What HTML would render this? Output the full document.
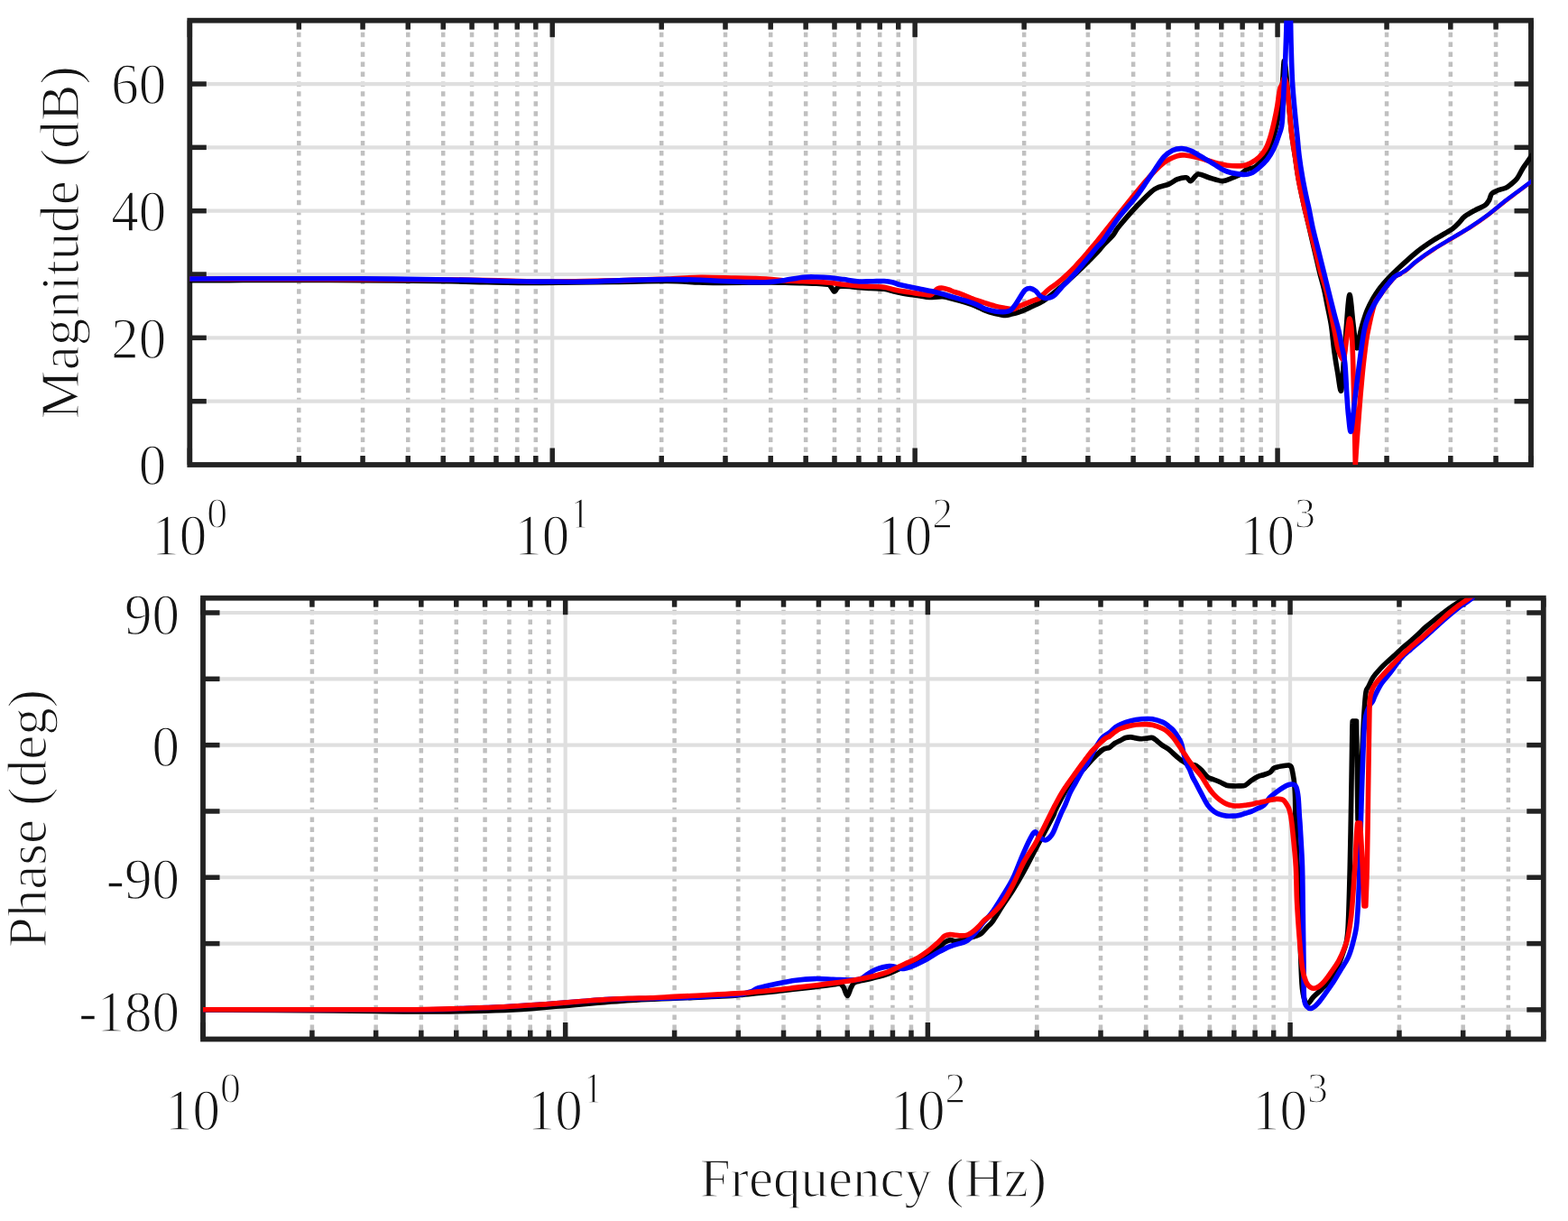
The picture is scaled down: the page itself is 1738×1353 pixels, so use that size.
<!DOCTYPE html><html><head><meta charset="utf-8"><title>Bode plot</title><style>html,body{margin:0;padding:0;background:#fff;}svg{display:block;}</style></head><body><svg width="1738" height="1353" viewBox="0 0 1738 1353"><rect x="0" y="0" width="1738" height="1353" fill="#fff"/>
<line x1="331.29" y1="22.70" x2="331.29" y2="515.00" stroke="#c0c0c0" stroke-width="4.5" stroke-dasharray="5.5 5.45" stroke-dashoffset="-2"/>
<line x1="402.07" y1="22.70" x2="402.07" y2="515.00" stroke="#c0c0c0" stroke-width="4.5" stroke-dasharray="5.5 5.45" stroke-dashoffset="-2"/>
<line x1="452.28" y1="22.70" x2="452.28" y2="515.00" stroke="#c0c0c0" stroke-width="4.5" stroke-dasharray="5.5 5.45" stroke-dashoffset="-2"/>
<line x1="491.23" y1="22.70" x2="491.23" y2="515.00" stroke="#c0c0c0" stroke-width="4.5" stroke-dasharray="5.5 5.45" stroke-dashoffset="-2"/>
<line x1="523.06" y1="22.70" x2="523.06" y2="515.00" stroke="#c0c0c0" stroke-width="4.5" stroke-dasharray="5.5 5.45" stroke-dashoffset="-2"/>
<line x1="549.96" y1="22.70" x2="549.96" y2="515.00" stroke="#c0c0c0" stroke-width="4.5" stroke-dasharray="5.5 5.45" stroke-dashoffset="-2"/>
<line x1="573.27" y1="22.70" x2="573.27" y2="515.00" stroke="#c0c0c0" stroke-width="4.5" stroke-dasharray="5.5 5.45" stroke-dashoffset="-2"/>
<line x1="593.83" y1="22.70" x2="593.83" y2="515.00" stroke="#c0c0c0" stroke-width="4.5" stroke-dasharray="5.5 5.45" stroke-dashoffset="-2"/>
<line x1="612.22" y1="22.70" x2="612.22" y2="515.00" stroke="#dfdfdf" stroke-width="4.2" />
<line x1="733.21" y1="22.70" x2="733.21" y2="515.00" stroke="#c0c0c0" stroke-width="4.5" stroke-dasharray="5.5 5.45" stroke-dashoffset="-2"/>
<line x1="803.99" y1="22.70" x2="803.99" y2="515.00" stroke="#c0c0c0" stroke-width="4.5" stroke-dasharray="5.5 5.45" stroke-dashoffset="-2"/>
<line x1="854.20" y1="22.70" x2="854.20" y2="515.00" stroke="#c0c0c0" stroke-width="4.5" stroke-dasharray="5.5 5.45" stroke-dashoffset="-2"/>
<line x1="893.15" y1="22.70" x2="893.15" y2="515.00" stroke="#c0c0c0" stroke-width="4.5" stroke-dasharray="5.5 5.45" stroke-dashoffset="-2"/>
<line x1="924.98" y1="22.70" x2="924.98" y2="515.00" stroke="#c0c0c0" stroke-width="4.5" stroke-dasharray="5.5 5.45" stroke-dashoffset="-2"/>
<line x1="951.89" y1="22.70" x2="951.89" y2="515.00" stroke="#c0c0c0" stroke-width="4.5" stroke-dasharray="5.5 5.45" stroke-dashoffset="-2"/>
<line x1="975.20" y1="22.70" x2="975.20" y2="515.00" stroke="#c0c0c0" stroke-width="4.5" stroke-dasharray="5.5 5.45" stroke-dashoffset="-2"/>
<line x1="995.75" y1="22.70" x2="995.75" y2="515.00" stroke="#c0c0c0" stroke-width="4.5" stroke-dasharray="5.5 5.45" stroke-dashoffset="-2"/>
<line x1="1014.15" y1="22.70" x2="1014.15" y2="515.00" stroke="#dfdfdf" stroke-width="4.2" />
<line x1="1135.14" y1="22.70" x2="1135.14" y2="515.00" stroke="#c0c0c0" stroke-width="4.5" stroke-dasharray="5.5 5.45" stroke-dashoffset="-2"/>
<line x1="1205.91" y1="22.70" x2="1205.91" y2="515.00" stroke="#c0c0c0" stroke-width="4.5" stroke-dasharray="5.5 5.45" stroke-dashoffset="-2"/>
<line x1="1256.13" y1="22.70" x2="1256.13" y2="515.00" stroke="#c0c0c0" stroke-width="4.5" stroke-dasharray="5.5 5.45" stroke-dashoffset="-2"/>
<line x1="1295.08" y1="22.70" x2="1295.08" y2="515.00" stroke="#c0c0c0" stroke-width="4.5" stroke-dasharray="5.5 5.45" stroke-dashoffset="-2"/>
<line x1="1326.90" y1="22.70" x2="1326.90" y2="515.00" stroke="#c0c0c0" stroke-width="4.5" stroke-dasharray="5.5 5.45" stroke-dashoffset="-2"/>
<line x1="1353.81" y1="22.70" x2="1353.81" y2="515.00" stroke="#c0c0c0" stroke-width="4.5" stroke-dasharray="5.5 5.45" stroke-dashoffset="-2"/>
<line x1="1377.12" y1="22.70" x2="1377.12" y2="515.00" stroke="#c0c0c0" stroke-width="4.5" stroke-dasharray="5.5 5.45" stroke-dashoffset="-2"/>
<line x1="1397.68" y1="22.70" x2="1397.68" y2="515.00" stroke="#c0c0c0" stroke-width="4.5" stroke-dasharray="5.5 5.45" stroke-dashoffset="-2"/>
<line x1="1416.07" y1="22.70" x2="1416.07" y2="515.00" stroke="#dfdfdf" stroke-width="4.2" />
<line x1="1537.06" y1="22.70" x2="1537.06" y2="515.00" stroke="#c0c0c0" stroke-width="4.5" stroke-dasharray="5.5 5.45" stroke-dashoffset="-2"/>
<line x1="1607.83" y1="22.70" x2="1607.83" y2="515.00" stroke="#c0c0c0" stroke-width="4.5" stroke-dasharray="5.5 5.45" stroke-dashoffset="-2"/>
<line x1="1658.05" y1="22.70" x2="1658.05" y2="515.00" stroke="#c0c0c0" stroke-width="4.5" stroke-dasharray="5.5 5.45" stroke-dashoffset="-2"/>
<line x1="1697.00" y1="22.70" x2="1697.00" y2="515.00" stroke="#c0c0c0" stroke-width="4.5" stroke-dasharray="5.5 5.45" stroke-dashoffset="-2"/>
<line x1="210.30" y1="444.67" x2="1697.00" y2="444.67" stroke="#dfdfdf" stroke-width="4.2" />
<line x1="210.30" y1="374.34" x2="1697.00" y2="374.34" stroke="#dfdfdf" stroke-width="4.2" />
<line x1="210.30" y1="304.01" x2="1697.00" y2="304.01" stroke="#dfdfdf" stroke-width="4.2" />
<line x1="210.30" y1="233.69" x2="1697.00" y2="233.69" stroke="#dfdfdf" stroke-width="4.2" />
<line x1="210.30" y1="163.36" x2="1697.00" y2="163.36" stroke="#dfdfdf" stroke-width="4.2" />
<line x1="210.30" y1="93.03" x2="1697.00" y2="93.03" stroke="#dfdfdf" stroke-width="4.2" />
<line x1="210.30" y1="22.70" x2="210.30" y2="41.20" stroke="#222222" stroke-width="5.5" />
<line x1="210.30" y1="515.00" x2="210.30" y2="496.50" stroke="#222222" stroke-width="5.5" />
<line x1="331.29" y1="22.70" x2="331.29" y2="32.70" stroke="#222222" stroke-width="5.5" />
<line x1="331.29" y1="515.00" x2="331.29" y2="505.00" stroke="#222222" stroke-width="5.5" />
<line x1="402.07" y1="22.70" x2="402.07" y2="32.70" stroke="#222222" stroke-width="5.5" />
<line x1="402.07" y1="515.00" x2="402.07" y2="505.00" stroke="#222222" stroke-width="5.5" />
<line x1="452.28" y1="22.70" x2="452.28" y2="32.70" stroke="#222222" stroke-width="5.5" />
<line x1="452.28" y1="515.00" x2="452.28" y2="505.00" stroke="#222222" stroke-width="5.5" />
<line x1="491.23" y1="22.70" x2="491.23" y2="32.70" stroke="#222222" stroke-width="5.5" />
<line x1="491.23" y1="515.00" x2="491.23" y2="505.00" stroke="#222222" stroke-width="5.5" />
<line x1="523.06" y1="22.70" x2="523.06" y2="32.70" stroke="#222222" stroke-width="5.5" />
<line x1="523.06" y1="515.00" x2="523.06" y2="505.00" stroke="#222222" stroke-width="5.5" />
<line x1="549.96" y1="22.70" x2="549.96" y2="32.70" stroke="#222222" stroke-width="5.5" />
<line x1="549.96" y1="515.00" x2="549.96" y2="505.00" stroke="#222222" stroke-width="5.5" />
<line x1="573.27" y1="22.70" x2="573.27" y2="32.70" stroke="#222222" stroke-width="5.5" />
<line x1="573.27" y1="515.00" x2="573.27" y2="505.00" stroke="#222222" stroke-width="5.5" />
<line x1="593.83" y1="22.70" x2="593.83" y2="32.70" stroke="#222222" stroke-width="5.5" />
<line x1="593.83" y1="515.00" x2="593.83" y2="505.00" stroke="#222222" stroke-width="5.5" />
<line x1="612.22" y1="22.70" x2="612.22" y2="41.20" stroke="#222222" stroke-width="5.5" />
<line x1="612.22" y1="515.00" x2="612.22" y2="496.50" stroke="#222222" stroke-width="5.5" />
<line x1="733.21" y1="22.70" x2="733.21" y2="32.70" stroke="#222222" stroke-width="5.5" />
<line x1="733.21" y1="515.00" x2="733.21" y2="505.00" stroke="#222222" stroke-width="5.5" />
<line x1="803.99" y1="22.70" x2="803.99" y2="32.70" stroke="#222222" stroke-width="5.5" />
<line x1="803.99" y1="515.00" x2="803.99" y2="505.00" stroke="#222222" stroke-width="5.5" />
<line x1="854.20" y1="22.70" x2="854.20" y2="32.70" stroke="#222222" stroke-width="5.5" />
<line x1="854.20" y1="515.00" x2="854.20" y2="505.00" stroke="#222222" stroke-width="5.5" />
<line x1="893.15" y1="22.70" x2="893.15" y2="32.70" stroke="#222222" stroke-width="5.5" />
<line x1="893.15" y1="515.00" x2="893.15" y2="505.00" stroke="#222222" stroke-width="5.5" />
<line x1="924.98" y1="22.70" x2="924.98" y2="32.70" stroke="#222222" stroke-width="5.5" />
<line x1="924.98" y1="515.00" x2="924.98" y2="505.00" stroke="#222222" stroke-width="5.5" />
<line x1="951.89" y1="22.70" x2="951.89" y2="32.70" stroke="#222222" stroke-width="5.5" />
<line x1="951.89" y1="515.00" x2="951.89" y2="505.00" stroke="#222222" stroke-width="5.5" />
<line x1="975.20" y1="22.70" x2="975.20" y2="32.70" stroke="#222222" stroke-width="5.5" />
<line x1="975.20" y1="515.00" x2="975.20" y2="505.00" stroke="#222222" stroke-width="5.5" />
<line x1="995.75" y1="22.70" x2="995.75" y2="32.70" stroke="#222222" stroke-width="5.5" />
<line x1="995.75" y1="515.00" x2="995.75" y2="505.00" stroke="#222222" stroke-width="5.5" />
<line x1="1014.15" y1="22.70" x2="1014.15" y2="41.20" stroke="#222222" stroke-width="5.5" />
<line x1="1014.15" y1="515.00" x2="1014.15" y2="496.50" stroke="#222222" stroke-width="5.5" />
<line x1="1135.14" y1="22.70" x2="1135.14" y2="32.70" stroke="#222222" stroke-width="5.5" />
<line x1="1135.14" y1="515.00" x2="1135.14" y2="505.00" stroke="#222222" stroke-width="5.5" />
<line x1="1205.91" y1="22.70" x2="1205.91" y2="32.70" stroke="#222222" stroke-width="5.5" />
<line x1="1205.91" y1="515.00" x2="1205.91" y2="505.00" stroke="#222222" stroke-width="5.5" />
<line x1="1256.13" y1="22.70" x2="1256.13" y2="32.70" stroke="#222222" stroke-width="5.5" />
<line x1="1256.13" y1="515.00" x2="1256.13" y2="505.00" stroke="#222222" stroke-width="5.5" />
<line x1="1295.08" y1="22.70" x2="1295.08" y2="32.70" stroke="#222222" stroke-width="5.5" />
<line x1="1295.08" y1="515.00" x2="1295.08" y2="505.00" stroke="#222222" stroke-width="5.5" />
<line x1="1326.90" y1="22.70" x2="1326.90" y2="32.70" stroke="#222222" stroke-width="5.5" />
<line x1="1326.90" y1="515.00" x2="1326.90" y2="505.00" stroke="#222222" stroke-width="5.5" />
<line x1="1353.81" y1="22.70" x2="1353.81" y2="32.70" stroke="#222222" stroke-width="5.5" />
<line x1="1353.81" y1="515.00" x2="1353.81" y2="505.00" stroke="#222222" stroke-width="5.5" />
<line x1="1377.12" y1="22.70" x2="1377.12" y2="32.70" stroke="#222222" stroke-width="5.5" />
<line x1="1377.12" y1="515.00" x2="1377.12" y2="505.00" stroke="#222222" stroke-width="5.5" />
<line x1="1397.68" y1="22.70" x2="1397.68" y2="32.70" stroke="#222222" stroke-width="5.5" />
<line x1="1397.68" y1="515.00" x2="1397.68" y2="505.00" stroke="#222222" stroke-width="5.5" />
<line x1="1416.07" y1="22.70" x2="1416.07" y2="41.20" stroke="#222222" stroke-width="5.5" />
<line x1="1416.07" y1="515.00" x2="1416.07" y2="496.50" stroke="#222222" stroke-width="5.5" />
<line x1="1537.06" y1="22.70" x2="1537.06" y2="32.70" stroke="#222222" stroke-width="5.5" />
<line x1="1537.06" y1="515.00" x2="1537.06" y2="505.00" stroke="#222222" stroke-width="5.5" />
<line x1="1607.83" y1="22.70" x2="1607.83" y2="32.70" stroke="#222222" stroke-width="5.5" />
<line x1="1607.83" y1="515.00" x2="1607.83" y2="505.00" stroke="#222222" stroke-width="5.5" />
<line x1="1658.05" y1="22.70" x2="1658.05" y2="32.70" stroke="#222222" stroke-width="5.5" />
<line x1="1658.05" y1="515.00" x2="1658.05" y2="505.00" stroke="#222222" stroke-width="5.5" />
<line x1="1697.00" y1="22.70" x2="1697.00" y2="32.70" stroke="#222222" stroke-width="5.5" />
<line x1="1697.00" y1="515.00" x2="1697.00" y2="505.00" stroke="#222222" stroke-width="5.5" />
<line x1="210.30" y1="444.67" x2="228.80" y2="444.67" stroke="#222222" stroke-width="5.5" />
<line x1="1697.00" y1="444.67" x2="1678.50" y2="444.67" stroke="#222222" stroke-width="5.5" />
<line x1="210.30" y1="374.34" x2="228.80" y2="374.34" stroke="#222222" stroke-width="5.5" />
<line x1="1697.00" y1="374.34" x2="1678.50" y2="374.34" stroke="#222222" stroke-width="5.5" />
<line x1="210.30" y1="304.01" x2="228.80" y2="304.01" stroke="#222222" stroke-width="5.5" />
<line x1="1697.00" y1="304.01" x2="1678.50" y2="304.01" stroke="#222222" stroke-width="5.5" />
<line x1="210.30" y1="233.69" x2="228.80" y2="233.69" stroke="#222222" stroke-width="5.5" />
<line x1="1697.00" y1="233.69" x2="1678.50" y2="233.69" stroke="#222222" stroke-width="5.5" />
<line x1="210.30" y1="163.36" x2="228.80" y2="163.36" stroke="#222222" stroke-width="5.5" />
<line x1="1697.00" y1="163.36" x2="1678.50" y2="163.36" stroke="#222222" stroke-width="5.5" />
<line x1="210.30" y1="93.03" x2="228.80" y2="93.03" stroke="#222222" stroke-width="5.5" />
<line x1="1697.00" y1="93.03" x2="1678.50" y2="93.03" stroke="#222222" stroke-width="5.5" />
<rect x="210.30" y="22.70" width="1486.70" height="492.30" fill="none" stroke="#222222" stroke-width="5.8"/>
<line x1="345.92" y1="662.70" x2="345.92" y2="1151.50" stroke="#c0c0c0" stroke-width="4.5" stroke-dasharray="5.5 5.45" stroke-dashoffset="-2"/>
<line x1="416.65" y1="662.70" x2="416.65" y2="1151.50" stroke="#c0c0c0" stroke-width="4.5" stroke-dasharray="5.5 5.45" stroke-dashoffset="-2"/>
<line x1="466.84" y1="662.70" x2="466.84" y2="1151.50" stroke="#c0c0c0" stroke-width="4.5" stroke-dasharray="5.5 5.45" stroke-dashoffset="-2"/>
<line x1="505.76" y1="662.70" x2="505.76" y2="1151.50" stroke="#c0c0c0" stroke-width="4.5" stroke-dasharray="5.5 5.45" stroke-dashoffset="-2"/>
<line x1="537.57" y1="662.70" x2="537.57" y2="1151.50" stroke="#c0c0c0" stroke-width="4.5" stroke-dasharray="5.5 5.45" stroke-dashoffset="-2"/>
<line x1="564.46" y1="662.70" x2="564.46" y2="1151.50" stroke="#c0c0c0" stroke-width="4.5" stroke-dasharray="5.5 5.45" stroke-dashoffset="-2"/>
<line x1="587.75" y1="662.70" x2="587.75" y2="1151.50" stroke="#c0c0c0" stroke-width="4.5" stroke-dasharray="5.5 5.45" stroke-dashoffset="-2"/>
<line x1="608.30" y1="662.70" x2="608.30" y2="1151.50" stroke="#c0c0c0" stroke-width="4.5" stroke-dasharray="5.5 5.45" stroke-dashoffset="-2"/>
<line x1="626.68" y1="662.70" x2="626.68" y2="1151.50" stroke="#dfdfdf" stroke-width="4.2" />
<line x1="747.60" y1="662.70" x2="747.60" y2="1151.50" stroke="#c0c0c0" stroke-width="4.5" stroke-dasharray="5.5 5.45" stroke-dashoffset="-2"/>
<line x1="818.33" y1="662.70" x2="818.33" y2="1151.50" stroke="#c0c0c0" stroke-width="4.5" stroke-dasharray="5.5 5.45" stroke-dashoffset="-2"/>
<line x1="868.51" y1="662.70" x2="868.51" y2="1151.50" stroke="#c0c0c0" stroke-width="4.5" stroke-dasharray="5.5 5.45" stroke-dashoffset="-2"/>
<line x1="907.44" y1="662.70" x2="907.44" y2="1151.50" stroke="#c0c0c0" stroke-width="4.5" stroke-dasharray="5.5 5.45" stroke-dashoffset="-2"/>
<line x1="939.25" y1="662.70" x2="939.25" y2="1151.50" stroke="#c0c0c0" stroke-width="4.5" stroke-dasharray="5.5 5.45" stroke-dashoffset="-2"/>
<line x1="966.14" y1="662.70" x2="966.14" y2="1151.50" stroke="#c0c0c0" stroke-width="4.5" stroke-dasharray="5.5 5.45" stroke-dashoffset="-2"/>
<line x1="989.43" y1="662.70" x2="989.43" y2="1151.50" stroke="#c0c0c0" stroke-width="4.5" stroke-dasharray="5.5 5.45" stroke-dashoffset="-2"/>
<line x1="1009.98" y1="662.70" x2="1009.98" y2="1151.50" stroke="#c0c0c0" stroke-width="4.5" stroke-dasharray="5.5 5.45" stroke-dashoffset="-2"/>
<line x1="1028.36" y1="662.70" x2="1028.36" y2="1151.50" stroke="#dfdfdf" stroke-width="4.2" />
<line x1="1149.28" y1="662.70" x2="1149.28" y2="1151.50" stroke="#c0c0c0" stroke-width="4.5" stroke-dasharray="5.5 5.45" stroke-dashoffset="-2"/>
<line x1="1220.01" y1="662.70" x2="1220.01" y2="1151.50" stroke="#c0c0c0" stroke-width="4.5" stroke-dasharray="5.5 5.45" stroke-dashoffset="-2"/>
<line x1="1270.19" y1="662.70" x2="1270.19" y2="1151.50" stroke="#c0c0c0" stroke-width="4.5" stroke-dasharray="5.5 5.45" stroke-dashoffset="-2"/>
<line x1="1309.12" y1="662.70" x2="1309.12" y2="1151.50" stroke="#c0c0c0" stroke-width="4.5" stroke-dasharray="5.5 5.45" stroke-dashoffset="-2"/>
<line x1="1340.93" y1="662.70" x2="1340.93" y2="1151.50" stroke="#c0c0c0" stroke-width="4.5" stroke-dasharray="5.5 5.45" stroke-dashoffset="-2"/>
<line x1="1367.82" y1="662.70" x2="1367.82" y2="1151.50" stroke="#c0c0c0" stroke-width="4.5" stroke-dasharray="5.5 5.45" stroke-dashoffset="-2"/>
<line x1="1391.11" y1="662.70" x2="1391.11" y2="1151.50" stroke="#c0c0c0" stroke-width="4.5" stroke-dasharray="5.5 5.45" stroke-dashoffset="-2"/>
<line x1="1411.66" y1="662.70" x2="1411.66" y2="1151.50" stroke="#c0c0c0" stroke-width="4.5" stroke-dasharray="5.5 5.45" stroke-dashoffset="-2"/>
<line x1="1430.04" y1="662.70" x2="1430.04" y2="1151.50" stroke="#dfdfdf" stroke-width="4.2" />
<line x1="1550.96" y1="662.70" x2="1550.96" y2="1151.50" stroke="#c0c0c0" stroke-width="4.5" stroke-dasharray="5.5 5.45" stroke-dashoffset="-2"/>
<line x1="1621.69" y1="662.70" x2="1621.69" y2="1151.50" stroke="#c0c0c0" stroke-width="4.5" stroke-dasharray="5.5 5.45" stroke-dashoffset="-2"/>
<line x1="1671.87" y1="662.70" x2="1671.87" y2="1151.50" stroke="#c0c0c0" stroke-width="4.5" stroke-dasharray="5.5 5.45" stroke-dashoffset="-2"/>
<line x1="1710.80" y1="662.70" x2="1710.80" y2="1151.50" stroke="#c0c0c0" stroke-width="4.5" stroke-dasharray="5.5 5.45" stroke-dashoffset="-2"/>
<line x1="225.00" y1="1118.91" x2="1710.80" y2="1118.91" stroke="#dfdfdf" stroke-width="4.2" />
<line x1="225.00" y1="1045.59" x2="1710.80" y2="1045.59" stroke="#dfdfdf" stroke-width="4.2" />
<line x1="225.00" y1="972.27" x2="1710.80" y2="972.27" stroke="#dfdfdf" stroke-width="4.2" />
<line x1="225.00" y1="898.95" x2="1710.80" y2="898.95" stroke="#dfdfdf" stroke-width="4.2" />
<line x1="225.00" y1="825.63" x2="1710.80" y2="825.63" stroke="#dfdfdf" stroke-width="4.2" />
<line x1="225.00" y1="752.31" x2="1710.80" y2="752.31" stroke="#dfdfdf" stroke-width="4.2" />
<line x1="225.00" y1="678.99" x2="1710.80" y2="678.99" stroke="#dfdfdf" stroke-width="4.2" />
<line x1="225.00" y1="662.70" x2="225.00" y2="681.20" stroke="#222222" stroke-width="5.5" />
<line x1="225.00" y1="1151.50" x2="225.00" y2="1133.00" stroke="#222222" stroke-width="5.5" />
<line x1="345.92" y1="662.70" x2="345.92" y2="672.70" stroke="#222222" stroke-width="5.5" />
<line x1="345.92" y1="1151.50" x2="345.92" y2="1141.50" stroke="#222222" stroke-width="5.5" />
<line x1="416.65" y1="662.70" x2="416.65" y2="672.70" stroke="#222222" stroke-width="5.5" />
<line x1="416.65" y1="1151.50" x2="416.65" y2="1141.50" stroke="#222222" stroke-width="5.5" />
<line x1="466.84" y1="662.70" x2="466.84" y2="672.70" stroke="#222222" stroke-width="5.5" />
<line x1="466.84" y1="1151.50" x2="466.84" y2="1141.50" stroke="#222222" stroke-width="5.5" />
<line x1="505.76" y1="662.70" x2="505.76" y2="672.70" stroke="#222222" stroke-width="5.5" />
<line x1="505.76" y1="1151.50" x2="505.76" y2="1141.50" stroke="#222222" stroke-width="5.5" />
<line x1="537.57" y1="662.70" x2="537.57" y2="672.70" stroke="#222222" stroke-width="5.5" />
<line x1="537.57" y1="1151.50" x2="537.57" y2="1141.50" stroke="#222222" stroke-width="5.5" />
<line x1="564.46" y1="662.70" x2="564.46" y2="672.70" stroke="#222222" stroke-width="5.5" />
<line x1="564.46" y1="1151.50" x2="564.46" y2="1141.50" stroke="#222222" stroke-width="5.5" />
<line x1="587.75" y1="662.70" x2="587.75" y2="672.70" stroke="#222222" stroke-width="5.5" />
<line x1="587.75" y1="1151.50" x2="587.75" y2="1141.50" stroke="#222222" stroke-width="5.5" />
<line x1="608.30" y1="662.70" x2="608.30" y2="672.70" stroke="#222222" stroke-width="5.5" />
<line x1="608.30" y1="1151.50" x2="608.30" y2="1141.50" stroke="#222222" stroke-width="5.5" />
<line x1="626.68" y1="662.70" x2="626.68" y2="681.20" stroke="#222222" stroke-width="5.5" />
<line x1="626.68" y1="1151.50" x2="626.68" y2="1133.00" stroke="#222222" stroke-width="5.5" />
<line x1="747.60" y1="662.70" x2="747.60" y2="672.70" stroke="#222222" stroke-width="5.5" />
<line x1="747.60" y1="1151.50" x2="747.60" y2="1141.50" stroke="#222222" stroke-width="5.5" />
<line x1="818.33" y1="662.70" x2="818.33" y2="672.70" stroke="#222222" stroke-width="5.5" />
<line x1="818.33" y1="1151.50" x2="818.33" y2="1141.50" stroke="#222222" stroke-width="5.5" />
<line x1="868.51" y1="662.70" x2="868.51" y2="672.70" stroke="#222222" stroke-width="5.5" />
<line x1="868.51" y1="1151.50" x2="868.51" y2="1141.50" stroke="#222222" stroke-width="5.5" />
<line x1="907.44" y1="662.70" x2="907.44" y2="672.70" stroke="#222222" stroke-width="5.5" />
<line x1="907.44" y1="1151.50" x2="907.44" y2="1141.50" stroke="#222222" stroke-width="5.5" />
<line x1="939.25" y1="662.70" x2="939.25" y2="672.70" stroke="#222222" stroke-width="5.5" />
<line x1="939.25" y1="1151.50" x2="939.25" y2="1141.50" stroke="#222222" stroke-width="5.5" />
<line x1="966.14" y1="662.70" x2="966.14" y2="672.70" stroke="#222222" stroke-width="5.5" />
<line x1="966.14" y1="1151.50" x2="966.14" y2="1141.50" stroke="#222222" stroke-width="5.5" />
<line x1="989.43" y1="662.70" x2="989.43" y2="672.70" stroke="#222222" stroke-width="5.5" />
<line x1="989.43" y1="1151.50" x2="989.43" y2="1141.50" stroke="#222222" stroke-width="5.5" />
<line x1="1009.98" y1="662.70" x2="1009.98" y2="672.70" stroke="#222222" stroke-width="5.5" />
<line x1="1009.98" y1="1151.50" x2="1009.98" y2="1141.50" stroke="#222222" stroke-width="5.5" />
<line x1="1028.36" y1="662.70" x2="1028.36" y2="681.20" stroke="#222222" stroke-width="5.5" />
<line x1="1028.36" y1="1151.50" x2="1028.36" y2="1133.00" stroke="#222222" stroke-width="5.5" />
<line x1="1149.28" y1="662.70" x2="1149.28" y2="672.70" stroke="#222222" stroke-width="5.5" />
<line x1="1149.28" y1="1151.50" x2="1149.28" y2="1141.50" stroke="#222222" stroke-width="5.5" />
<line x1="1220.01" y1="662.70" x2="1220.01" y2="672.70" stroke="#222222" stroke-width="5.5" />
<line x1="1220.01" y1="1151.50" x2="1220.01" y2="1141.50" stroke="#222222" stroke-width="5.5" />
<line x1="1270.19" y1="662.70" x2="1270.19" y2="672.70" stroke="#222222" stroke-width="5.5" />
<line x1="1270.19" y1="1151.50" x2="1270.19" y2="1141.50" stroke="#222222" stroke-width="5.5" />
<line x1="1309.12" y1="662.70" x2="1309.12" y2="672.70" stroke="#222222" stroke-width="5.5" />
<line x1="1309.12" y1="1151.50" x2="1309.12" y2="1141.50" stroke="#222222" stroke-width="5.5" />
<line x1="1340.93" y1="662.70" x2="1340.93" y2="672.70" stroke="#222222" stroke-width="5.5" />
<line x1="1340.93" y1="1151.50" x2="1340.93" y2="1141.50" stroke="#222222" stroke-width="5.5" />
<line x1="1367.82" y1="662.70" x2="1367.82" y2="672.70" stroke="#222222" stroke-width="5.5" />
<line x1="1367.82" y1="1151.50" x2="1367.82" y2="1141.50" stroke="#222222" stroke-width="5.5" />
<line x1="1391.11" y1="662.70" x2="1391.11" y2="672.70" stroke="#222222" stroke-width="5.5" />
<line x1="1391.11" y1="1151.50" x2="1391.11" y2="1141.50" stroke="#222222" stroke-width="5.5" />
<line x1="1411.66" y1="662.70" x2="1411.66" y2="672.70" stroke="#222222" stroke-width="5.5" />
<line x1="1411.66" y1="1151.50" x2="1411.66" y2="1141.50" stroke="#222222" stroke-width="5.5" />
<line x1="1430.04" y1="662.70" x2="1430.04" y2="681.20" stroke="#222222" stroke-width="5.5" />
<line x1="1430.04" y1="1151.50" x2="1430.04" y2="1133.00" stroke="#222222" stroke-width="5.5" />
<line x1="1550.96" y1="662.70" x2="1550.96" y2="672.70" stroke="#222222" stroke-width="5.5" />
<line x1="1550.96" y1="1151.50" x2="1550.96" y2="1141.50" stroke="#222222" stroke-width="5.5" />
<line x1="1621.69" y1="662.70" x2="1621.69" y2="672.70" stroke="#222222" stroke-width="5.5" />
<line x1="1621.69" y1="1151.50" x2="1621.69" y2="1141.50" stroke="#222222" stroke-width="5.5" />
<line x1="1671.87" y1="662.70" x2="1671.87" y2="672.70" stroke="#222222" stroke-width="5.5" />
<line x1="1671.87" y1="1151.50" x2="1671.87" y2="1141.50" stroke="#222222" stroke-width="5.5" />
<line x1="1710.80" y1="662.70" x2="1710.80" y2="672.70" stroke="#222222" stroke-width="5.5" />
<line x1="1710.80" y1="1151.50" x2="1710.80" y2="1141.50" stroke="#222222" stroke-width="5.5" />
<line x1="225.00" y1="1118.91" x2="243.50" y2="1118.91" stroke="#222222" stroke-width="5.5" />
<line x1="1710.80" y1="1118.91" x2="1692.30" y2="1118.91" stroke="#222222" stroke-width="5.5" />
<line x1="225.00" y1="1045.59" x2="243.50" y2="1045.59" stroke="#222222" stroke-width="5.5" />
<line x1="1710.80" y1="1045.59" x2="1692.30" y2="1045.59" stroke="#222222" stroke-width="5.5" />
<line x1="225.00" y1="972.27" x2="243.50" y2="972.27" stroke="#222222" stroke-width="5.5" />
<line x1="1710.80" y1="972.27" x2="1692.30" y2="972.27" stroke="#222222" stroke-width="5.5" />
<line x1="225.00" y1="898.95" x2="243.50" y2="898.95" stroke="#222222" stroke-width="5.5" />
<line x1="1710.80" y1="898.95" x2="1692.30" y2="898.95" stroke="#222222" stroke-width="5.5" />
<line x1="225.00" y1="825.63" x2="243.50" y2="825.63" stroke="#222222" stroke-width="5.5" />
<line x1="1710.80" y1="825.63" x2="1692.30" y2="825.63" stroke="#222222" stroke-width="5.5" />
<line x1="225.00" y1="752.31" x2="243.50" y2="752.31" stroke="#222222" stroke-width="5.5" />
<line x1="1710.80" y1="752.31" x2="1692.30" y2="752.31" stroke="#222222" stroke-width="5.5" />
<line x1="225.00" y1="678.99" x2="243.50" y2="678.99" stroke="#222222" stroke-width="5.5" />
<line x1="1710.80" y1="678.99" x2="1692.30" y2="678.99" stroke="#222222" stroke-width="5.5" />
<rect x="225.00" y="662.70" width="1485.80" height="488.80" fill="none" stroke="#222222" stroke-width="5.8"/>
<defs><clipPath id="c1"><rect x="210.3" y="22.7" width="1486.7" height="492.3"/></clipPath><clipPath id="c2"><rect x="225.0" y="662.7" width="1485.8" height="488.79999999999995"/></clipPath></defs>
<g clip-path="url(#c1)" fill="none" stroke-width="5.6" stroke-linejoin="round" stroke-linecap="round">
<path d="M209.0,310.8 C224.2,310.8 268.2,310.5 300.0,310.5 C331.8,310.5 366.7,310.4 400.0,310.6 C433.3,310.8 476.7,311.4 500.0,311.8 C523.3,312.2 523.3,312.5 540.0,312.8 C556.7,313.1 576.7,313.6 600.0,313.5 C623.3,313.4 656.7,312.8 680.0,312.5 C703.3,312.2 724.2,311.4 740.0,311.5 C755.8,311.6 765.0,312.7 775.0,313.0 C785.0,313.3 787.5,313.5 800.0,313.5 C812.5,313.5 838.3,313.1 850.0,313.0 C861.7,312.9 863.3,313.1 870.0,313.2 C876.7,313.3 884.2,313.6 890.0,313.8 C895.8,314.0 900.3,314.0 905.0,314.3 C909.7,314.6 915.2,314.7 918.0,315.4 C920.8,316.1 920.3,317.2 921.5,318.5 C922.7,319.8 923.8,323.0 925.0,323.0 C926.2,323.0 927.3,319.4 928.5,318.5 C929.7,317.6 929.8,317.5 932.0,317.3 C934.2,317.1 939.0,317.3 942.0,317.5 C945.0,317.7 946.2,318.2 950.0,318.5 C953.8,318.8 960.0,319.1 965.0,319.4 C970.0,319.7 975.8,319.6 980.0,320.2 C984.2,320.8 986.7,322.0 990.0,322.8 C993.3,323.6 996.8,324.4 1000.0,325.0 C1003.2,325.6 1005.7,326.0 1009.0,326.5 C1012.3,327.0 1016.5,327.5 1020.0,328.0 C1023.5,328.5 1025.8,329.4 1030.0,329.5 C1034.2,329.6 1040.5,328.5 1045.0,328.8 C1049.5,329.1 1052.8,330.5 1057.0,331.5 C1061.2,332.5 1065.8,333.7 1070.0,335.0 C1074.2,336.3 1078.4,337.8 1082.0,339.3 C1085.6,340.8 1088.0,342.6 1091.5,344.0 C1095.0,345.4 1099.2,346.6 1103.0,347.5 C1106.8,348.4 1111.6,349.4 1114.5,349.5 C1117.4,349.6 1117.9,348.9 1120.3,348.3 C1122.7,347.7 1126.0,346.9 1128.9,346.0 C1131.8,345.1 1134.6,343.9 1137.5,342.6 C1140.4,341.4 1143.5,339.8 1146.2,338.5 C1148.9,337.2 1151.3,336.4 1153.6,335.1 C1155.9,333.9 1157.3,333.0 1160.0,331.0 C1162.7,329.0 1165.8,326.5 1170.0,323.0 C1174.2,319.5 1180.0,314.5 1185.0,310.0 C1190.0,305.5 1194.8,301.1 1200.0,296.0 C1205.2,290.9 1212.6,283.4 1216.5,279.3 C1220.4,275.2 1220.4,274.3 1223.2,271.3 C1226.0,268.3 1230.4,264.6 1233.2,261.3 C1236.0,258.0 1235.5,256.8 1240.0,251.3 C1244.5,245.8 1253.3,235.5 1260.0,228.5 C1266.7,221.5 1274.2,213.5 1280.0,209.5 C1285.8,205.5 1290.8,206.2 1295.0,204.4 C1299.2,202.6 1301.7,200.0 1305.0,198.7 C1308.3,197.4 1312.5,196.5 1315.0,196.8 C1317.5,197.1 1317.8,201.2 1320.0,200.6 C1322.2,200.0 1324.7,193.6 1328.0,193.0 C1331.3,192.4 1335.5,195.5 1340.0,196.8 C1344.5,198.1 1350.8,200.5 1355.0,200.6 C1359.2,200.7 1361.7,198.8 1365.0,197.5 C1368.3,196.2 1372.1,194.7 1375.0,193.0 C1377.9,191.3 1379.5,188.9 1382.2,187.6 C1384.9,186.3 1388.0,186.9 1391.0,185.0 C1394.0,183.1 1397.5,179.3 1400.0,176.0 C1402.5,172.7 1404.1,169.4 1406.0,165.4 C1407.9,161.4 1409.7,157.9 1411.5,152.0 C1413.3,146.1 1415.3,137.4 1416.8,130.0 C1418.3,122.6 1419.5,114.7 1420.3,107.7 C1421.1,100.7 1421.3,94.6 1421.8,88.0 C1422.3,81.4 1422.7,70.2 1423.2,68.0 C1423.7,65.8 1424.4,70.5 1425.0,75.0 C1425.6,79.5 1426.0,86.6 1426.8,95.0 C1427.5,103.4 1428.7,116.5 1429.5,125.5 C1430.3,134.5 1430.8,141.3 1431.8,149.2 C1432.8,157.1 1434.2,164.9 1435.4,172.8 C1436.6,180.7 1437.5,188.6 1438.9,196.5 C1440.3,204.4 1442.5,214.6 1443.7,220.2 C1444.9,225.8 1444.6,224.4 1445.9,230.0 C1447.2,235.6 1449.7,245.8 1451.5,253.7 C1453.3,261.6 1455.2,269.4 1457.0,277.3 C1458.8,285.2 1460.8,293.9 1462.5,301.0 C1464.2,308.1 1466.1,314.1 1467.5,320.0 C1468.9,325.9 1469.5,329.8 1470.8,336.5 C1472.1,343.2 1474.1,351.3 1475.5,360.2 C1476.9,369.1 1477.8,381.4 1479.0,390.0 C1480.2,398.6 1481.2,404.8 1482.5,412.0 C1483.8,419.2 1485.4,435.0 1486.6,433.0 C1487.8,431.0 1488.5,412.2 1489.5,400.0 C1490.5,387.8 1491.7,370.8 1492.5,360.0 C1493.3,349.2 1493.9,340.6 1494.5,335.0 C1495.1,329.4 1495.5,326.6 1496.0,326.6 C1496.5,326.6 1496.9,330.3 1497.5,335.0 C1498.1,339.7 1498.8,348.8 1499.5,355.0 C1500.2,361.2 1500.8,367.0 1501.5,372.0 C1502.2,377.0 1502.9,383.2 1503.5,385.0 C1504.1,386.8 1504.6,385.0 1505.3,382.5 C1506.0,380.0 1506.7,373.8 1507.5,370.0 C1508.3,366.2 1508.7,364.2 1510.0,359.9 C1511.3,355.5 1513.3,348.8 1515.3,343.9 C1517.3,339.0 1519.5,334.8 1521.9,330.6 C1524.3,326.4 1527.2,322.2 1529.9,318.6 C1532.6,315.1 1535.0,312.4 1537.9,309.3 C1540.8,306.2 1541.9,304.9 1547.2,300.0 C1552.5,295.1 1562.7,285.4 1569.8,279.7 C1576.9,274.0 1583.0,270.0 1589.7,265.7 C1596.4,261.4 1605.2,256.8 1609.7,253.7 C1614.2,250.6 1614.7,249.3 1617.0,247.0 C1619.3,244.7 1620.6,242.1 1623.6,239.8 C1626.6,237.5 1631.3,235.0 1635.0,233.0 C1638.7,231.0 1643.0,229.6 1645.6,227.8 C1648.2,226.0 1649.2,224.2 1650.5,222.0 C1651.8,219.8 1651.9,216.3 1653.5,214.5 C1655.1,212.7 1657.3,212.1 1660.0,211.0 C1662.7,209.9 1667.0,209.1 1669.5,207.9 C1672.0,206.7 1673.0,205.7 1675.0,204.0 C1677.0,202.3 1679.3,200.9 1681.5,197.9 C1683.7,194.9 1686.0,189.7 1688.3,186.0 C1690.6,182.3 1693.8,178.2 1695.4,175.9 C1697.0,173.6 1697.6,172.7 1698.0,172.0" stroke="#000000"/>
<path d="M209.0,309.0 C257.5,309.2 434.8,309.5 500.0,310.0 C565.2,310.5 566.7,311.9 600.0,312.0 C633.3,312.1 676.7,310.9 700.0,310.4 C723.3,309.9 727.2,309.5 740.0,309.0 C752.8,308.5 764.5,307.4 777.0,307.3 C789.5,307.2 805.0,307.9 815.0,308.1 C825.0,308.3 830.8,308.3 837.0,308.5 C843.2,308.7 846.5,308.8 852.0,309.2 C857.5,309.6 863.7,310.6 870.0,311.0 C876.3,311.4 884.2,311.6 890.0,311.8 C895.8,312.0 900.0,311.9 905.0,312.2 C910.0,312.4 915.0,312.8 920.0,313.3 C925.0,313.8 930.0,314.6 935.0,315.2 C940.0,315.8 945.0,316.3 950.0,316.7 C955.0,317.1 960.0,317.1 965.0,317.4 C970.0,317.6 975.8,317.6 980.0,318.2 C984.2,318.8 987.2,320.1 990.0,320.8 C992.8,321.5 993.8,321.7 997.0,322.2 C1000.2,322.7 1005.0,323.4 1009.0,324.0 C1013.0,324.6 1017.3,325.3 1021.0,325.8 C1024.7,326.3 1028.7,327.3 1031.0,327.0 C1033.3,326.7 1033.7,325.2 1035.0,324.0 C1036.3,322.8 1037.3,320.8 1039.0,320.0 C1040.7,319.2 1042.9,319.0 1045.0,319.2 C1047.1,319.4 1049.4,320.3 1051.5,321.0 C1053.6,321.7 1055.5,322.7 1057.5,323.4 C1059.5,324.1 1061.5,324.5 1063.5,325.2 C1065.5,325.9 1067.6,326.8 1069.6,327.6 C1071.6,328.4 1073.6,329.2 1075.6,330.0 C1077.6,330.8 1079.0,331.6 1081.7,332.5 C1084.4,333.4 1088.0,334.6 1091.5,335.7 C1095.0,336.8 1099.2,338.2 1103.0,339.1 C1106.8,340.1 1111.1,340.8 1114.5,341.4 C1117.9,342.0 1120.8,342.9 1123.2,342.6 C1125.6,342.3 1127.0,340.6 1128.9,339.7 C1130.8,338.8 1132.3,338.4 1134.7,337.4 C1137.1,336.4 1140.4,335.0 1143.3,333.9 C1146.2,332.8 1149.7,331.8 1151.9,330.5 C1154.1,329.2 1154.8,327.7 1156.7,325.9 C1158.6,324.1 1161.1,321.7 1163.3,319.9 C1165.5,318.1 1167.8,316.9 1170.0,315.2 C1172.2,313.5 1174.4,311.8 1176.6,309.9 C1178.8,308.0 1181.1,306.0 1183.3,303.9 C1185.5,301.8 1187.8,299.6 1190.0,297.3 C1192.2,295.0 1194.4,292.3 1196.6,289.9 C1198.8,287.4 1201.0,285.2 1203.2,282.6 C1205.4,280.1 1207.7,277.2 1209.9,274.6 C1212.1,272.0 1211.5,272.9 1216.5,266.7 C1221.5,260.5 1231.1,248.3 1240.0,237.3 C1248.9,226.3 1261.7,210.1 1270.0,200.6 C1278.3,191.1 1284.2,185.0 1290.0,180.4 C1295.8,175.8 1300.8,174.2 1305.0,172.8 C1309.2,171.4 1310.8,171.8 1315.0,172.2 C1319.2,172.6 1325.0,174.1 1330.0,175.3 C1335.0,176.6 1340.0,178.4 1345.0,179.7 C1350.0,181.0 1354.5,182.5 1360.0,183.2 C1365.5,183.8 1373.3,184.0 1377.7,183.6 C1382.1,183.2 1383.6,182.1 1386.6,180.5 C1389.6,178.9 1392.8,176.8 1395.5,174.3 C1398.2,171.8 1400.5,169.1 1402.6,165.4 C1404.7,161.7 1406.3,157.3 1407.9,152.1 C1409.5,146.9 1411.1,140.3 1412.4,134.4 C1413.7,128.5 1414.9,122.5 1415.9,116.6 C1416.9,110.7 1417.7,102.8 1418.6,98.9 C1419.5,95.0 1420.4,95.2 1421.3,93.0 C1422.2,90.8 1422.9,85.5 1423.8,86.0 C1424.7,86.5 1425.6,89.4 1426.6,96.0 C1427.5,102.6 1428.6,116.6 1429.5,125.5 C1430.4,134.4 1430.8,141.3 1431.8,149.2 C1432.8,157.1 1434.2,164.9 1435.4,172.8 C1436.6,180.7 1437.5,188.6 1438.9,196.5 C1440.3,204.4 1442.5,214.6 1443.7,220.2 C1444.9,225.8 1444.6,224.4 1445.9,230.0 C1447.2,235.6 1449.8,245.8 1451.8,253.7 C1453.8,261.6 1455.8,269.4 1457.8,277.3 C1459.8,285.2 1461.5,293.1 1463.7,301.0 C1465.9,308.9 1468.8,316.8 1470.8,324.7 C1472.8,332.6 1473.9,340.4 1475.5,348.3 C1477.1,356.2 1478.9,365.4 1480.2,372.0 C1481.5,378.6 1482.0,383.7 1483.5,388.0 C1485.0,392.3 1487.6,399.3 1489.0,398.0 C1490.4,396.7 1491.1,386.3 1492.0,380.0 C1492.9,373.7 1493.8,364.5 1494.5,360.0 C1495.2,355.5 1495.5,352.9 1496.0,353.2 C1496.5,353.5 1497.2,355.0 1497.8,362.0 C1498.4,369.0 1499.0,380.3 1499.5,395.0 C1500.0,409.7 1500.5,430.0 1501.0,450.0 C1501.5,470.0 1502.1,504.2 1502.3,515.0 C1502.5,525.8 1502.0,518.8 1502.3,515.0 C1502.5,511.2 1503.3,499.5 1503.8,492.0 C1504.3,484.5 1504.9,478.0 1505.5,470.0 C1506.1,462.0 1506.8,452.7 1507.5,444.0 C1508.2,435.3 1509.0,426.5 1509.8,418.0 C1510.6,409.5 1511.5,400.8 1512.5,393.0 C1513.5,385.2 1513.7,380.2 1515.5,371.0 C1517.3,361.8 1520.9,344.9 1523.3,337.5 C1525.7,330.1 1527.7,330.2 1529.9,326.9 C1532.1,323.6 1533.9,320.9 1536.6,317.6 C1539.3,314.3 1543.2,309.4 1545.9,307.0" stroke="#ff0000" stroke-linecap="butt"/>
<path d="M1536.6,317.6 C1539.3,314.3 1543.2,309.4 1545.9,307.0 C1548.6,304.6 1550.2,304.7 1552.5,303.3" stroke="#ff0000" stroke-width="5.0" stroke-linecap="butt"/>
<path d="M1545.9,307.0 C1548.6,304.6 1550.2,304.7 1552.5,303.3 C1554.8,301.9 1556.9,300.8 1559.8,298.6 C1562.7,296.4 1564.8,293.7 1569.8,289.9 C1574.8,286.1 1583.0,280.3 1589.7,276.0 C1596.4,271.7 1603.1,268.0 1609.7,264.0 C1616.3,260.0 1622.9,256.3 1629.6,252.0 C1636.2,247.7 1642.9,243.1 1649.6,238.1 C1656.2,233.1 1664.1,226.3 1669.5,222.1 C1674.9,217.9 1677.2,216.4 1682.0,212.8 C1686.8,209.2 1695.3,202.8 1698.0,200.8" stroke="#ff0000" stroke-width="4.5"/>
<path d="M209.0,309.0 C224.2,308.9 268.2,308.7 300.0,308.7 C331.8,308.7 366.7,308.6 400.0,308.8 C433.3,309.0 475.0,309.6 500.0,310.0 C525.0,310.4 533.3,310.8 550.0,311.2 C566.7,311.6 583.3,312.0 600.0,312.1 C616.7,312.2 633.3,312.4 650.0,312.1 C666.7,311.8 685.0,310.8 700.0,310.4 C715.0,310.0 728.3,309.7 740.0,309.6 C751.7,309.5 760.0,309.7 770.0,310.0 C780.0,310.3 790.0,311.1 800.0,311.5 C810.0,311.9 821.3,312.4 830.0,312.6 C838.7,312.8 845.3,313.0 852.0,312.6 C858.7,312.2 863.7,311.4 870.0,310.5 C876.3,309.6 884.2,307.9 890.0,307.3 C895.8,306.7 900.0,306.9 905.0,307.0 C910.0,307.1 915.0,307.3 920.0,307.7 C925.0,308.1 930.0,308.9 935.0,309.6 C940.0,310.3 945.0,311.4 950.0,311.8 C955.0,312.2 960.0,311.9 965.0,311.8 C970.0,311.8 975.8,311.3 980.0,311.5 C984.2,311.7 987.2,312.3 990.0,313.0 C992.8,313.7 993.8,314.7 997.0,315.5 C1000.2,316.3 1005.0,317.2 1009.0,318.0 C1013.0,318.8 1017.0,319.6 1021.0,320.4 C1025.0,321.2 1029.0,321.9 1033.0,322.8 C1037.0,323.7 1041.0,324.7 1045.0,325.8 C1049.0,326.9 1052.8,328.2 1057.0,329.4 C1061.2,330.6 1065.8,331.8 1070.0,333.1 C1074.2,334.4 1078.4,335.8 1082.0,337.3 C1085.6,338.8 1088.0,340.7 1091.5,342.0 C1095.0,343.3 1099.2,344.3 1103.0,344.9 C1106.8,345.5 1111.6,345.7 1114.5,345.5 C1117.4,345.3 1118.4,345.1 1120.3,343.7 C1122.2,342.2 1124.1,339.5 1126.0,336.8 C1127.9,334.1 1130.1,330.2 1131.8,327.6 C1133.5,325.0 1134.7,322.6 1136.4,321.3 C1138.1,320.0 1140.2,319.4 1142.1,319.6 C1144.0,319.8 1146.2,321.1 1147.9,322.4 C1149.6,323.7 1150.9,326.3 1152.5,327.6 C1154.1,328.9 1155.9,329.9 1157.7,330.3 C1159.5,330.7 1161.5,330.4 1163.4,329.9 C1165.3,329.3 1167.0,328.9 1169.2,327.0 C1171.4,325.1 1174.2,321.0 1176.6,318.5 C1178.9,316.0 1181.1,314.2 1183.3,311.9 C1185.5,309.6 1187.8,307.0 1190.0,304.6 C1192.2,302.2 1194.4,299.9 1196.6,297.3 C1198.8,294.8 1201.0,292.0 1203.2,289.3 C1205.4,286.6 1207.7,284.0 1209.9,281.3 C1212.1,278.6 1214.3,275.9 1216.5,273.3 C1218.7,270.8 1219.3,271.4 1223.2,266.0 C1227.1,260.6 1233.9,249.2 1240.0,241.1 C1246.1,232.9 1253.3,225.9 1260.0,217.1 C1266.7,208.2 1275.0,195.2 1280.0,188.0 C1285.0,180.8 1286.7,177.6 1290.0,174.0 C1293.3,170.4 1296.7,168.1 1300.0,166.5 C1303.3,164.9 1306.7,164.5 1310.0,164.6 C1313.3,164.7 1316.7,165.7 1320.0,167.1 C1323.3,168.5 1325.8,170.4 1330.0,172.8 C1334.2,175.2 1340.0,178.7 1345.0,181.6 C1350.0,184.5 1354.5,188.0 1360.0,190.0 C1365.5,192.0 1373.3,193.1 1377.7,193.4 C1382.1,193.7 1383.6,193.3 1386.6,192.0 C1389.6,190.7 1392.5,188.3 1395.5,185.8 C1398.5,183.3 1401.7,180.4 1404.4,177.0 C1407.1,173.6 1409.4,169.6 1411.5,165.4 C1413.6,161.2 1415.3,156.3 1416.8,152.1 C1418.3,147.9 1419.8,144.4 1420.6,140.0 C1421.4,135.6 1421.4,132.2 1421.8,125.5 C1422.2,118.8 1422.6,108.4 1423.0,100.0 C1423.4,91.6 1424.0,85.0 1424.4,75.0 C1424.8,65.0 1425.2,50.8 1425.6,40.0 C1426.0,29.2 1426.1,15.0 1426.8,10.0 C1427.5,5.0 1429.3,3.3 1430.0,10.0 C1430.7,16.7 1430.7,36.7 1431.1,50.0 C1431.5,63.3 1431.8,77.4 1432.5,90.0 C1433.2,102.6 1434.5,115.6 1435.4,125.5 C1436.3,135.4 1437.0,141.3 1437.8,149.2 C1438.6,157.1 1439.1,164.9 1440.1,172.8 C1441.1,180.7 1442.3,188.6 1443.7,196.5 C1445.1,204.4 1447.2,214.6 1448.4,220.2 C1449.6,225.8 1449.5,224.4 1450.7,230.0 C1451.9,235.6 1453.6,245.8 1455.4,253.7 C1457.2,261.6 1459.3,269.4 1461.3,277.3 C1463.3,285.2 1465.2,293.1 1467.2,301.0 C1469.2,308.9 1471.1,316.8 1473.1,324.7 C1475.1,332.6 1477.2,341.4 1479.0,348.3 C1480.8,355.2 1482.4,360.2 1483.8,366.1 C1485.2,372.0 1486.1,377.8 1487.3,383.8 C1488.5,389.8 1489.8,392.6 1490.7,402.0 C1491.7,411.4 1492.3,430.0 1493.0,440.0 C1493.7,450.0 1494.0,455.7 1494.8,462.0 C1495.5,468.3 1496.4,480.6 1497.5,478.0 C1498.6,475.4 1500.1,456.0 1501.3,446.3 C1502.5,436.6 1503.5,428.6 1504.6,419.7 C1505.7,410.8 1506.8,402.0 1508.0,393.1 C1509.2,384.2 1510.6,373.6 1512.0,366.5 C1513.4,359.4 1514.7,355.5 1516.6,350.6 C1518.5,345.7 1521.1,341.2 1523.3,337.2 C1525.5,333.2 1527.7,329.9 1529.9,326.6 C1532.1,323.3 1533.9,320.6 1536.6,317.3 C1539.3,314.0 1543.2,309.1 1545.9,306.7" stroke="#0000ff" stroke-linecap="butt"/>
<path d="M1536.6,317.3 C1539.3,314.0 1543.2,309.1 1545.9,306.7 C1548.6,304.3 1550.2,304.4 1552.5,303.0" stroke="#0000ff" stroke-width="5.0" stroke-linecap="butt"/>
<path d="M1545.9,306.7 C1548.6,304.3 1550.2,304.4 1552.5,303.0 C1554.8,301.6 1556.9,300.5 1559.8,298.3 C1562.7,296.1 1564.8,293.4 1569.8,289.6 C1574.8,285.8 1583.0,280.0 1589.7,275.7 C1596.4,271.4 1603.1,267.7 1609.7,263.7 C1616.3,259.7 1622.9,256.0 1629.6,251.7 C1636.2,247.4 1642.9,242.8 1649.6,237.8 C1656.2,232.8 1664.1,226.0 1669.5,221.8 C1674.9,217.6 1677.2,216.1 1682.0,212.5 C1686.8,208.9 1695.3,202.5 1698.0,200.5" stroke="#0000ff" stroke-width="4.5"/>
</g>
<g clip-path="url(#c2)" fill="none" stroke-width="5.6" stroke-linejoin="round" stroke-linecap="round">
<path d="M224.0,1119.0 C248.3,1119.2 330.7,1119.7 370.0,1120.0 C409.3,1120.3 428.3,1121.1 460.0,1121.0 C491.7,1120.9 533.3,1120.5 560.0,1119.5 C586.7,1118.5 596.7,1116.8 620.0,1115.0 C643.3,1113.2 670.0,1110.3 700.0,1108.5 C730.0,1106.7 780.0,1105.0 800.0,1104.0 C820.0,1103.0 813.2,1103.1 820.0,1102.5 C826.8,1101.9 833.8,1101.1 840.7,1100.4 C847.6,1099.7 854.5,1099.1 861.4,1098.4 C868.3,1097.7 875.3,1096.8 882.2,1096.0 C889.1,1095.2 896.0,1094.4 902.9,1093.6 C909.8,1092.8 918.9,1091.6 923.6,1091.0 C928.3,1090.4 929.1,1089.5 931.0,1090.0 C932.9,1090.5 933.6,1091.8 935.0,1094.0 C936.4,1096.2 937.8,1103.5 939.2,1103.5 C940.6,1103.5 942.0,1096.5 943.5,1094.0 C945.0,1091.5 944.4,1090.1 948.0,1088.5 C951.6,1086.9 958.7,1086.2 965.0,1084.5 C971.3,1082.8 979.6,1080.8 985.8,1078.5 C992.0,1076.2 995.0,1074.4 1002.0,1071.0 C1009.0,1067.6 1021.6,1061.4 1028.0,1058.0 C1034.4,1054.6 1037.4,1052.8 1040.6,1050.5 C1043.8,1048.2 1044.9,1045.7 1047.0,1044.2 C1049.1,1042.7 1051.2,1041.8 1053.3,1041.6 C1055.4,1041.4 1056.4,1043.2 1059.6,1042.9 C1062.8,1042.6 1068.6,1040.7 1072.3,1039.7 C1076.0,1038.8 1079.2,1038.2 1081.8,1037.2 C1084.4,1036.2 1086.0,1035.7 1088.1,1034.0 C1090.2,1032.3 1092.4,1029.2 1094.4,1027.1 C1096.4,1025.0 1097.2,1025.2 1100.0,1021.4 C1102.8,1017.5 1107.2,1009.9 1111.0,1004.0 C1114.8,998.1 1118.9,992.6 1122.8,986.3 C1126.7,980.0 1130.7,973.3 1134.6,966.2 C1138.5,959.1 1142.5,951.3 1146.4,943.8 C1150.4,936.3 1154.8,928.0 1158.3,921.3 C1161.8,914.6 1165.6,907.7 1167.7,903.5 C1169.8,899.3 1167.6,901.9 1170.7,896.0 C1173.8,890.1 1181.0,875.4 1186.2,868.0 C1191.4,860.6 1197.5,856.1 1201.8,851.5 C1206.1,846.9 1208.6,843.6 1212.1,840.1 C1215.5,836.6 1219.5,832.7 1222.5,830.7 C1225.5,828.7 1227.8,829.4 1230.0,828.2 C1232.2,827.0 1233.9,824.7 1235.9,823.4 C1237.9,822.1 1239.8,821.5 1241.8,820.5 C1243.8,819.5 1245.7,818.1 1247.7,817.5 C1249.7,816.9 1251.7,816.8 1253.7,816.9 C1255.7,817.0 1257.6,817.8 1259.6,818.1 C1261.6,818.4 1263.5,818.7 1265.5,818.7 C1267.5,818.7 1269.4,818.3 1271.4,818.1 C1273.4,817.9 1275.3,816.9 1277.3,817.5 C1279.3,818.1 1281.2,820.2 1283.2,821.7 C1285.2,823.2 1287.1,825.0 1289.1,826.4 C1291.1,827.8 1293.0,828.4 1295.0,829.9 C1297.0,831.4 1299.0,833.5 1301.0,835.3 C1303.0,837.1 1304.9,839.0 1306.9,840.6 C1308.9,842.2 1310.8,843.5 1312.8,844.7 C1314.8,845.9 1316.7,847.2 1318.7,847.7 C1320.7,848.2 1322.8,847.0 1325.0,848.0 C1327.2,849.0 1329.6,851.4 1331.9,853.6 C1334.2,855.8 1336.5,859.5 1338.8,861.2 C1341.1,862.9 1343.4,863.1 1345.7,864.0 C1348.0,864.9 1350.3,865.8 1352.6,866.8 C1354.9,867.8 1357.2,869.5 1359.5,870.2 C1361.8,870.9 1364.1,870.8 1366.4,870.9 C1368.7,871.0 1371.0,871.0 1373.3,870.9 C1375.6,870.8 1377.9,871.2 1380.2,870.2 C1382.5,869.2 1384.9,866.3 1387.2,864.7 C1389.5,863.1 1391.8,861.6 1394.1,860.6 C1396.4,859.6 1398.7,859.3 1401.0,858.5 C1403.3,857.7 1406.2,856.9 1407.9,855.7 C1409.6,854.6 1410.2,852.5 1411.3,851.6 C1412.4,850.7 1413.1,850.7 1414.8,850.2 C1416.5,849.7 1419.4,849.1 1421.7,848.8 C1424.0,848.4 1427.0,847.9 1428.6,848.1 C1430.2,848.3 1430.6,848.4 1431.4,850.2 C1432.2,852.1 1432.8,856.0 1433.4,859.2 C1434.0,862.4 1434.5,865.5 1434.8,869.5 C1435.1,873.5 1435.3,875.7 1435.5,883.3 C1435.7,890.9 1435.6,898.9 1436.2,915.0 C1436.8,931.1 1438.2,959.2 1439.0,980.0 C1439.8,1000.8 1440.3,1021.7 1441.0,1040.0 C1441.7,1058.3 1442.2,1078.7 1443.0,1090.0 C1443.8,1101.3 1444.8,1104.3 1446.0,1108.0 C1447.2,1111.7 1448.4,1112.5 1450.0,1112.0 C1451.6,1111.5 1453.1,1107.7 1455.6,1105.0 C1458.1,1102.3 1461.3,1100.0 1465.0,1096.0 C1468.7,1092.0 1473.8,1088.3 1478.0,1081.0 C1482.2,1073.7 1487.3,1060.5 1490.0,1052.0 C1492.7,1043.5 1493.0,1045.3 1494.0,1030.0 C1495.0,1014.7 1495.7,985.0 1496.3,960.0 C1496.9,935.0 1497.4,904.7 1497.8,880.0 C1498.2,855.3 1498.5,825.5 1498.8,812.0 C1499.0,798.5 1499.3,799.0 1499.3,799.0 C1499.3,799.0 1503.5,799.0 1503.5,799.0 C1503.5,799.0 1504.0,831.8 1504.2,850.0 C1504.5,868.2 1505.0,908.0 1505.0,908.0 C1505.0,908.0 1506.7,898.0 1507.5,885.0 C1508.3,872.0 1509.2,845.8 1510.0,830.0 C1510.8,814.2 1511.3,800.5 1512.0,790.0 C1512.7,779.5 1513.2,771.9 1514.0,767.0 C1514.8,762.1 1515.6,763.4 1517.0,760.6 C1518.4,757.8 1520.1,753.5 1522.2,750.3 C1524.3,747.1 1527.1,744.1 1529.6,741.4 C1532.1,738.7 1534.5,736.3 1537.0,734.0 C1539.5,731.7 1541.3,730.2 1544.4,727.4 C1547.5,724.6 1552.9,719.3 1555.5,717.0 C1558.1,714.7 1557.5,715.6 1560.0,713.5 C1562.5,711.4 1566.8,707.5 1570.3,704.3 C1573.8,701.1 1577.2,697.5 1580.7,694.5 C1584.2,691.5 1587.5,689.0 1591.0,686.2 C1594.5,683.4 1598.0,680.5 1601.4,677.9 C1604.9,675.3 1608.2,673.0 1611.7,670.7 C1615.2,668.4 1618.9,666.1 1622.1,664.0 C1625.3,661.9 1629.5,659.0 1631.0,658.0" stroke="#000000"/>
<path d="M224.0,1118.7 C263.3,1118.7 412.3,1118.9 460.0,1118.7 C507.7,1118.5 493.7,1118.0 510.0,1117.5 C526.3,1117.0 541.8,1116.6 558.0,1115.8 C574.2,1115.0 592.5,1113.6 607.0,1112.6 C621.5,1111.5 634.3,1110.3 645.0,1109.5 C655.7,1108.7 662.5,1108.0 671.0,1107.6 C679.5,1107.1 687.7,1107.0 696.0,1106.8 C704.3,1106.6 710.3,1106.7 721.0,1106.5 C731.7,1106.3 746.8,1106.0 760.0,1105.5 C773.2,1105.0 790.0,1103.8 800.0,1103.2 C810.0,1102.6 814.7,1102.7 820.0,1102.0 C825.3,1101.3 828.5,1100.2 832.0,1099.0 C835.5,1097.8 835.8,1096.3 840.7,1094.8 C845.6,1093.3 854.5,1091.4 861.4,1090.0 C868.3,1088.6 875.3,1087.2 882.2,1086.3 C889.1,1085.4 896.0,1084.8 902.9,1084.6 C909.8,1084.4 917.4,1085.0 923.6,1085.2 C929.8,1085.4 935.1,1086.0 940.0,1086.0 C944.9,1086.0 949.5,1086.0 953.0,1085.0 C956.5,1084.0 958.1,1081.8 961.0,1080.0 C963.9,1078.2 966.2,1076.1 970.3,1074.5 C974.4,1072.9 981.5,1070.9 985.8,1070.6 C990.1,1070.3 993.2,1072.0 996.0,1072.5 C998.8,1073.0 999.5,1073.9 1002.7,1073.3 C1005.9,1072.7 1011.1,1070.7 1015.3,1068.9 C1019.5,1067.1 1023.8,1064.8 1028.0,1062.5 C1032.2,1060.2 1036.4,1057.2 1040.6,1054.9 C1044.8,1052.6 1049.1,1050.3 1053.3,1048.6 C1057.5,1046.9 1062.7,1045.8 1065.9,1044.8 C1069.1,1043.8 1070.0,1043.9 1072.3,1042.3 C1074.6,1040.7 1077.0,1038.4 1080.0,1035.0 C1083.0,1031.6 1086.8,1025.8 1090.0,1022.0 C1093.2,1018.2 1095.5,1016.8 1099.0,1012.0 C1102.5,1007.2 1107.0,999.9 1111.0,993.4 C1115.0,986.9 1118.9,981.4 1122.8,973.3 C1126.7,965.2 1130.8,953.3 1134.6,944.9 C1138.4,936.5 1143.0,925.8 1145.9,922.8 C1148.8,919.8 1149.9,925.6 1152.0,927.0 C1154.1,928.4 1156.2,931.3 1158.5,931.0 C1160.8,930.7 1163.8,927.9 1165.9,925.0 C1168.0,922.1 1169.4,917.6 1171.0,913.9 C1172.6,910.2 1173.9,906.5 1175.5,902.8 C1177.1,899.1 1179.0,895.7 1180.7,891.8 C1182.4,887.9 1184.0,883.2 1185.8,879.2 C1187.6,875.2 1189.6,872.2 1191.8,868.1 C1194.0,864.0 1197.0,858.5 1199.2,854.8 C1201.4,851.1 1202.8,849.9 1205.1,845.9 C1207.4,841.9 1210.3,835.6 1213.0,831.0 C1215.7,826.4 1218.5,821.2 1221.3,818.0 C1224.1,814.8 1227.6,813.6 1230.0,811.6 C1232.4,809.6 1233.9,807.8 1235.9,806.3 C1237.9,804.8 1238.8,804.0 1241.8,802.7 C1244.8,801.4 1249.8,799.6 1253.7,798.6 C1257.7,797.6 1261.6,797.1 1265.5,796.8 C1269.4,796.5 1273.4,796.2 1277.3,796.8 C1281.2,797.4 1286.1,799.1 1289.1,800.4 C1292.0,801.7 1293.0,802.9 1295.0,804.5 C1297.0,806.1 1299.0,807.4 1301.0,809.8 C1303.0,812.2 1305.4,816.1 1306.9,818.7 C1308.4,821.3 1308.8,822.0 1309.8,825.2 C1310.8,828.5 1311.8,834.6 1312.8,838.2 C1313.8,841.9 1314.7,844.6 1315.7,847.1 C1316.7,849.6 1317.7,850.7 1318.7,853.0 C1319.7,855.3 1320.7,858.4 1321.7,860.7 C1322.8,863.0 1323.3,863.6 1325.0,866.8 C1326.7,870.0 1329.6,875.6 1331.9,879.9 C1334.2,884.1 1336.5,889.1 1338.8,892.3 C1341.1,895.5 1343.4,897.5 1345.7,899.2 C1348.0,900.9 1350.3,901.9 1352.6,902.7 C1354.9,903.5 1357.2,903.9 1359.5,904.1 C1361.8,904.3 1364.1,904.2 1366.4,904.1 C1368.7,904.0 1371.0,903.9 1373.3,903.4 C1375.6,902.9 1377.9,902.0 1380.2,901.3 C1382.5,900.6 1384.9,900.1 1387.2,899.2 C1389.5,898.3 1391.8,896.9 1394.1,895.8 C1396.4,894.6 1398.7,894.4 1401.0,892.3 C1403.3,890.2 1405.6,885.7 1407.9,883.3 C1410.2,880.9 1412.5,879.5 1414.8,877.8 C1417.1,876.1 1419.4,874.4 1421.7,873.0 C1424.0,871.6 1426.5,870.1 1428.6,869.5 C1430.7,868.9 1432.7,869.0 1434.1,869.5 C1435.5,870.0 1436.1,870.0 1436.9,872.3 C1437.7,874.6 1438.4,878.0 1439.0,883.3 C1439.6,888.6 1439.9,898.3 1440.3,904.1 C1440.7,909.9 1440.8,908.7 1441.3,918.0 C1441.8,927.3 1443.0,944.2 1443.5,960.0 C1444.0,975.8 1444.0,995.2 1444.3,1013.0 C1444.5,1030.8 1444.8,1051.0 1445.0,1066.5 C1445.2,1082.0 1444.8,1097.8 1445.5,1106.0 C1446.2,1114.2 1447.5,1113.9 1449.0,1115.7 C1450.5,1117.5 1452.3,1117.8 1454.3,1117.1 C1456.3,1116.4 1458.5,1114.4 1460.9,1111.7 C1463.3,1109.0 1466.0,1105.1 1468.9,1101.1 C1471.8,1097.1 1475.3,1092.2 1478.2,1087.8 C1481.1,1083.4 1483.5,1078.9 1486.2,1074.5 C1488.9,1070.1 1492.0,1066.1 1494.2,1061.2 C1496.4,1056.3 1498.0,1051.0 1499.5,1045.2 C1501.0,1039.4 1502.5,1034.1 1503.5,1026.6 C1504.5,1019.1 1504.9,1011.1 1505.5,1000.0 C1506.1,988.9 1506.5,975.3 1507.0,960.0 C1507.5,944.7 1508.0,924.7 1508.5,908.0 C1509.0,891.3 1509.4,876.3 1510.0,860.0 C1510.6,843.7 1511.3,821.2 1512.0,810.0 C1512.7,798.8 1513.1,797.5 1514.0,793.0 C1514.9,788.5 1516.2,785.7 1517.5,783.0 C1518.8,780.3 1520.3,779.1 1521.5,777.0 C1522.7,774.9 1522.8,773.4 1524.4,770.2 C1526.0,767.0 1528.4,761.8 1531.1,757.7 C1533.8,753.6 1537.0,750.6 1540.7,745.8 C1544.4,741.0 1549.5,733.4 1553.2,729.1 C1556.9,724.9 1560.8,722.1 1562.8,720.3 C1564.8,718.5 1563.1,720.0 1565.2,718.2 C1567.3,716.4 1572.0,712.4 1575.5,709.4 C1579.0,706.4 1582.5,703.2 1585.9,700.1 C1589.4,697.0 1592.8,693.9 1596.2,690.8 C1599.7,687.7 1603.1,684.4 1606.6,681.5 C1610.0,678.6 1613.9,675.5 1616.9,673.2 C1619.9,671.0 1622.2,669.8 1624.7,668.0 C1627.2,666.2 1630.8,663.4 1632.0,662.5" stroke="#0000ff"/>
<path d="M224.0,1118.7 C243.3,1118.7 300.7,1118.7 340.0,1118.7 C379.3,1118.7 431.7,1118.9 460.0,1118.7 C488.3,1118.5 493.7,1118.0 510.0,1117.5 C526.3,1117.0 541.8,1116.6 558.0,1115.8 C574.2,1115.0 592.5,1113.6 607.0,1112.6 C621.5,1111.5 634.3,1110.3 645.0,1109.5 C655.7,1108.7 662.5,1108.1 671.0,1107.6 C679.5,1107.1 687.7,1106.6 696.0,1106.3 C704.3,1106.0 712.5,1106.0 721.0,1105.7 C729.5,1105.4 738.5,1104.8 747.0,1104.4 C755.5,1104.0 763.7,1103.6 772.0,1103.2 C780.3,1102.8 789.0,1102.3 797.0,1101.9 C805.0,1101.5 812.7,1101.1 820.0,1100.6 C827.3,1100.1 833.8,1099.4 840.7,1098.8 C847.6,1098.2 854.5,1097.5 861.4,1096.8 C868.3,1096.1 875.3,1095.2 882.2,1094.4 C889.1,1093.6 896.0,1092.8 902.9,1092.0 C909.8,1091.2 916.7,1090.3 923.6,1089.4 C930.5,1088.5 937.4,1087.7 944.3,1086.5 C951.2,1085.3 959.8,1083.6 965.0,1082.5 C970.2,1081.4 971.9,1080.7 975.4,1079.7 C978.9,1078.7 981.2,1078.2 985.8,1076.3 C990.3,1074.4 997.8,1070.5 1002.7,1068.2 C1007.6,1065.9 1011.1,1064.8 1015.3,1062.5 C1019.5,1060.2 1023.8,1057.5 1028.0,1054.3 C1032.2,1051.1 1037.4,1046.3 1040.6,1043.5 C1043.8,1040.7 1044.9,1038.5 1047.0,1037.2 C1049.1,1035.9 1051.2,1035.8 1053.3,1035.6 C1055.4,1035.4 1057.5,1036.1 1059.6,1036.3 C1061.7,1036.5 1063.8,1037.0 1065.9,1036.9 C1068.0,1036.9 1070.2,1036.8 1072.3,1036.0 C1074.4,1035.2 1076.5,1033.8 1078.6,1032.2 C1080.7,1030.6 1082.8,1028.6 1084.9,1026.5 C1087.0,1024.4 1088.9,1021.7 1091.3,1019.5 C1093.7,1017.3 1095.8,1016.7 1099.1,1013.5 C1102.4,1010.3 1107.0,1006.0 1111.0,1000.5 C1115.0,995.0 1118.9,987.9 1122.8,980.4 C1126.7,972.9 1130.6,963.0 1134.6,955.6 C1138.6,948.2 1143.3,941.8 1146.7,936.1 C1150.1,930.4 1152.2,926.2 1154.8,921.3 C1157.4,916.4 1159.7,911.4 1162.2,906.5 C1164.7,901.6 1167.1,896.5 1169.6,891.8 C1172.1,887.1 1174.5,882.5 1177.0,878.4 C1179.5,874.3 1181.9,871.0 1184.4,867.4 C1186.9,863.8 1189.3,860.5 1191.8,857.0 C1194.3,853.5 1197.1,849.5 1199.2,846.7 C1201.3,843.9 1202.5,842.4 1204.3,840.0 C1206.1,837.6 1208.0,834.9 1210.2,832.4 C1212.4,829.9 1215.1,827.3 1217.6,825.0 C1220.1,822.7 1222.9,819.9 1225.0,818.4 C1227.1,816.9 1228.2,817.0 1230.0,815.8 C1231.8,814.6 1233.9,812.4 1235.9,811.0 C1237.9,809.6 1238.8,808.7 1241.8,807.5 C1244.8,806.3 1249.8,804.7 1253.7,803.9 C1257.7,803.1 1261.6,802.8 1265.5,802.7 C1269.4,802.6 1273.4,802.5 1277.3,803.3 C1281.2,804.1 1286.1,806.1 1289.1,807.5 C1292.0,808.9 1293.0,809.8 1295.0,811.6 C1297.0,813.4 1299.0,815.6 1301.0,818.1 C1303.0,820.6 1304.9,823.5 1306.9,826.4 C1308.9,829.3 1310.8,832.3 1312.8,835.3 C1314.8,838.2 1316.7,841.3 1318.7,844.1 C1320.7,846.9 1322.8,849.5 1325.0,852.3 C1327.2,855.0 1329.6,857.4 1331.9,860.6 C1334.2,863.8 1336.5,868.3 1338.8,871.6 C1341.1,874.9 1343.4,878.1 1345.7,880.6 C1348.0,883.1 1350.3,885.1 1352.6,886.8 C1354.9,888.5 1357.2,889.9 1359.5,890.9 C1361.8,891.9 1364.1,892.4 1366.4,892.7 C1368.7,893.1 1371.0,893.1 1373.3,893.0 C1375.6,892.9 1377.9,892.6 1380.2,892.3 C1382.5,892.0 1384.9,891.8 1387.2,891.3 C1389.5,890.8 1391.8,890.1 1394.1,889.6 C1396.4,889.1 1398.7,888.7 1401.0,888.2 C1403.3,887.7 1405.6,887.0 1407.9,886.5 C1410.2,886.0 1412.5,885.5 1414.8,885.4 C1417.1,885.3 1420.0,885.4 1421.7,886.1 C1423.4,886.8 1423.9,888.0 1425.1,889.6 C1426.2,891.2 1427.7,893.4 1428.6,895.8 C1429.5,898.2 1430.0,900.4 1430.7,904.1 C1431.4,907.8 1431.6,908.7 1432.5,918.0 C1433.4,927.3 1435.5,946.3 1436.3,960.0 C1437.1,973.7 1436.9,986.7 1437.6,1000.0 C1438.3,1013.3 1439.3,1027.8 1440.3,1040.0 C1441.3,1052.2 1442.4,1065.0 1443.6,1073.0 C1444.8,1081.0 1446.0,1084.2 1447.6,1087.8 C1449.2,1091.4 1451.0,1093.3 1453.0,1094.4 C1455.0,1095.5 1457.2,1095.5 1459.6,1094.4 C1462.0,1093.3 1464.9,1090.7 1467.6,1087.8 C1470.3,1084.9 1472.9,1080.9 1475.6,1077.1 C1478.3,1073.3 1481.2,1069.6 1483.6,1065.2 C1486.0,1060.8 1488.4,1055.2 1490.2,1050.5 C1492.0,1045.8 1492.9,1043.6 1494.2,1037.2 C1495.5,1030.8 1496.8,1024.0 1498.0,1012.0 C1499.2,1000.0 1500.6,979.5 1501.5,965.0 C1502.4,950.5 1503.1,933.8 1503.6,925.0 C1504.1,916.2 1504.6,912.0 1504.6,912.0 C1504.6,912.0 1507.6,912.0 1507.6,912.0 C1507.6,912.0 1509.6,944.7 1510.3,960.0 C1511.0,975.3 1512.0,1004.0 1512.0,1004.0 C1512.0,1004.0 1513.8,1004.0 1513.8,1004.0 C1513.8,1004.0 1514.8,980.7 1515.3,960.0 C1515.8,939.3 1516.2,903.3 1516.5,880.0 C1516.8,856.7 1517.1,836.5 1517.4,820.0 C1517.7,803.5 1517.8,789.6 1518.1,781.3 C1518.4,773.0 1518.5,773.5 1519.2,770.2 C1519.9,766.9 1520.7,764.2 1522.2,761.4 C1523.7,758.6 1525.9,755.9 1528.1,753.2 C1530.3,750.5 1532.8,748.1 1535.5,745.1 C1538.2,742.1 1541.5,738.6 1544.4,735.5 C1547.4,732.4 1550.1,729.6 1553.2,726.6 C1556.3,723.6 1560.8,719.6 1562.8,717.8 C1564.8,716.0 1563.1,717.5 1565.2,715.7 C1567.3,713.9 1572.0,709.9 1575.5,706.9 C1579.0,703.9 1582.5,700.7 1585.9,697.6 C1589.4,694.5 1592.8,691.4 1596.2,688.3 C1599.7,685.2 1603.1,681.9 1606.6,679.0 C1610.0,676.1 1613.9,673.0 1616.9,670.7 C1619.9,668.5 1622.2,667.3 1624.7,665.5 C1627.2,663.7 1630.8,660.9 1632.0,660.0" stroke="#ff0000"/>
</g>
<g font-family="'Liberation Serif', 'Times New Roman', serif" fill="#141414" stroke="#fff" stroke-width="1.3">
<text transform="translate(184.30,537.30) scale(1,1.07)" font-size="61" text-anchor="end" >0</text>
<text transform="translate(184.30,396.64) scale(1,1.07)" font-size="61" text-anchor="end" >20</text>
<text transform="translate(184.30,255.99) scale(1,1.07)" font-size="61" text-anchor="end" >40</text>
<text transform="translate(184.30,115.33) scale(1,1.07)" font-size="61" text-anchor="end" >60</text>
<text transform="translate(199.00,702.79) scale(1,1.07)" font-size="61" text-anchor="end" >90</text>
<text transform="translate(199.00,849.43) scale(1,1.07)" font-size="61" text-anchor="end" >0</text>
<text transform="translate(199.00,996.07) scale(1,1.07)" font-size="61" text-anchor="end" >-90</text>
<text transform="translate(199.00,1142.71) scale(1,1.07)" font-size="61" text-anchor="end" >-180</text>
<text transform="translate(168.36,615.30) scale(1,1.07)" font-size="61">10<tspan dy="-28.6" font-size="45.8">0</tspan></text>
<text transform="translate(570.29,615.30) scale(1,1.07)" font-size="61">10<tspan dy="-28.6" font-size="45.8">1</tspan></text>
<text transform="translate(972.21,615.30) scale(1,1.07)" font-size="61">10<tspan dy="-28.6" font-size="45.8">2</tspan></text>
<text transform="translate(1374.13,615.30) scale(1,1.07)" font-size="61">10<tspan dy="-28.6" font-size="45.8">3</tspan></text>
<text transform="translate(183.06,1252.30) scale(1,1.07)" font-size="61">10<tspan dy="-28.6" font-size="45.8">0</tspan></text>
<text transform="translate(584.74,1252.30) scale(1,1.07)" font-size="61">10<tspan dy="-28.6" font-size="45.8">1</tspan></text>
<text transform="translate(986.42,1252.30) scale(1,1.07)" font-size="61">10<tspan dy="-28.6" font-size="45.8">2</tspan></text>
<text transform="translate(1388.10,1252.30) scale(1,1.07)" font-size="61">10<tspan dy="-28.6" font-size="45.8">3</tspan></text>
<text x="967.90" y="1326.30" font-size="61" text-anchor="middle" >Frequency (Hz)</text>
<text transform="translate(87.3,268.9) rotate(-90)" font-size="61" text-anchor="middle">Magnitude (dB)</text>
<text transform="translate(50.6,907.1) rotate(-90)" font-size="61" text-anchor="middle">Phase (deg)</text>
</g></svg></body></html>
